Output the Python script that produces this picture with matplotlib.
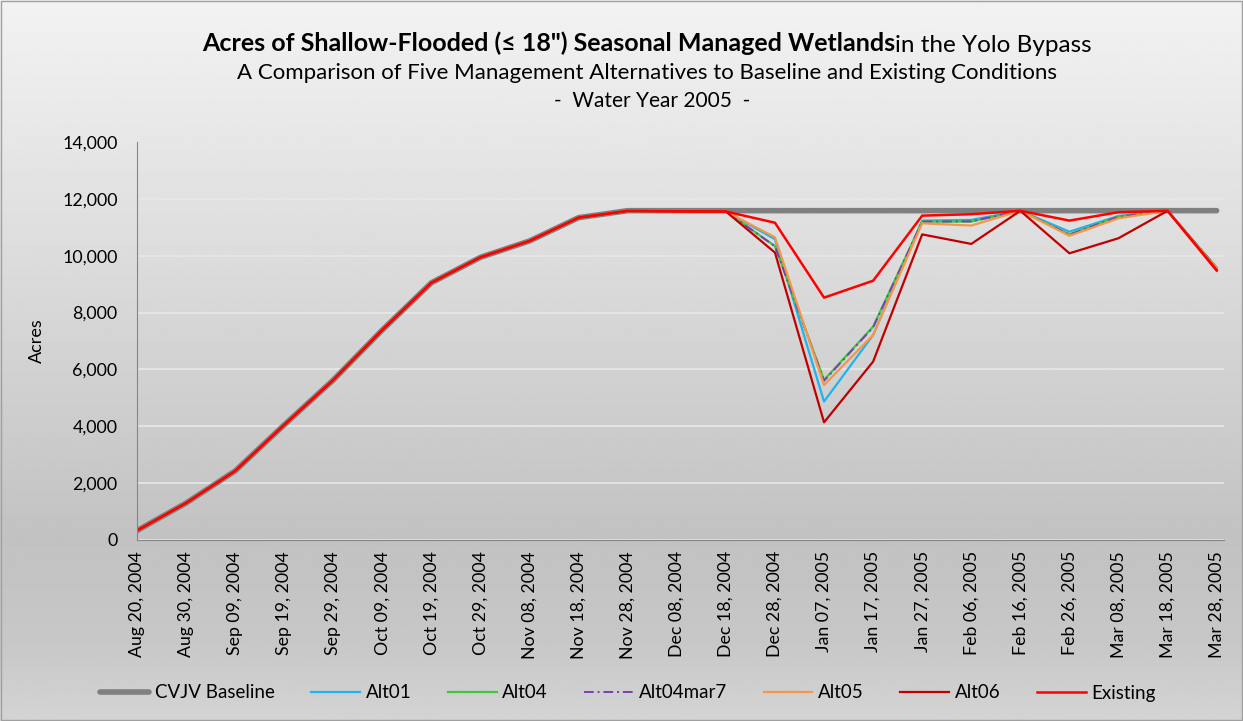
import numpy as np
import matplotlib
matplotlib.use("Agg")
from matplotlib import pyplot as plt
from matplotlib.ticker import FuncFormatter

plt.rcParams["font.family"] = ["Lato", "DejaVu Sans"]

dates = ["Aug 20, 2004", "Aug 30, 2004", "Sep 09, 2004", "Sep 19, 2004", "Sep 29, 2004",
         "Oct 09, 2004", "Oct 19, 2004", "Oct 29, 2004", "Nov 08, 2004", "Nov 18, 2004",
         "Nov 28, 2004", "Dec 08, 2004", "Dec 18, 2004", "Dec 28, 2004", "Jan 07, 2005",
         "Jan 17, 2005", "Jan 27, 2005", "Feb 06, 2005", "Feb 16, 2005", "Feb 26, 2005",
         "Mar 08, 2005", "Mar 18, 2005", "Mar 28, 2005"]

baseline = [330, 1300, 2430, 4050, 5630, 7390, 9050, 9945, 10520, 11340, 11585, 11585,
            11585, 11585, 11585, 11585, 11585, 11585, 11585, 11585, 11585, 11585, 11585]
alt01 = [330, 1300, 2430, 4050, 5630, 7390, 9050, 9945, 10520, 11340, 11575, 11560,
         11555, 10580, 4870, 7210, 11235, 11260, 11580, 10845, 11400, 11580, 9580]
alt04 = [330, 1300, 2430, 4050, 5630, 7390, 9050, 9945, 10520, 11340, 11575, 11560,
         11555, 10340, 5630, 7505, 11200, 11200, 11580, 10750, 11380, 11580, 9580]
alt04mar7 = [330, 1300, 2430, 4050, 5630, 7390, 9050, 9945, 10520, 11340, 11575, 11560,
             11555, 10330, 5600, 7480, 11200, 11210, 11580, 10740, 11370, 11580, 9580]
alt05 = [330, 1300, 2430, 4050, 5630, 7390, 9050, 9945, 10520, 11340, 11575, 11560,
         11555, 10650, 5450, 7210, 11140, 11060, 11580, 10700, 11315, 11580, 9560]
alt06 = [330, 1300, 2430, 4050, 5630, 7390, 9050, 9945, 10520, 11340, 11575, 11560,
         11555, 10110, 4140, 6275, 10750, 10415, 11580, 10085, 10615, 11580, 9500]
existing = [330, 1300, 2430, 4050, 5630, 7390, 9050, 9945, 10520, 11340, 11575, 11560,
            11555, 11160, 8525, 9120, 11410, 11460, 11580, 11235, 11530, 11580, 9475]

fig = plt.figure(figsize=(12.43, 7.21), dpi=100)

# background gradient
bg = fig.add_axes([0, 0, 1, 1], zorder=-10)
ys = np.array([0, 140, 540, 640, 721]) / 721
vals = np.array([0.95, 0.905, 0.76, 0.78, 0.83])
grad = np.interp(np.linspace(0, 1, 400), ys, vals)[:, None]
bg.imshow(np.repeat(grad, 2, axis=1), cmap="gray", vmin=0, vmax=1,
          aspect="auto", extent=[0, 1, 1, 0])
bg.set_xlim(0, 1)
bg.set_ylim(1, 0)
bg.axis("off")
bg.add_patch(plt.Rectangle((0.0005, 0.001), 0.999, 0.997, fill=False,
                           edgecolor="#a0a0a0", lw=1))

ax = fig.add_axes([137 / 1243, 1 - 540 / 721, (1224 - 137) / 1243, (540 - 142) / 721])
ax.set_facecolor("none")
x = np.arange(len(dates))

ax.plot(x, baseline, color="#808080", lw=4, label="CVJV Baseline", solid_capstyle="round")
ax.plot(x, alt01, color="#1fb4ef", lw=1.6, label="Alt01")
ax.plot(x, alt04, color="#3cc83c", lw=1.6, label="Alt04")
ax.plot(x, alt04mar7, color="#7a3fb0", lw=1.4, ls=(0, (5, 2, 1, 2)), label="Alt04mar7")
ax.plot(x, alt05, color="#f79646", lw=1.6, label="Alt05")
ax.plot(x, alt06, color="#c00000", lw=1.6, label="Alt06")
ax.plot(x, existing, color="#ff0000", lw=1.8, label="Existing")

ax.set_xlim(0, 22.15)
ax.set_ylim(0, 14000)
ax.set_yticks(np.arange(0, 14001, 2000))
ax.yaxis.set_major_formatter(FuncFormatter(lambda v, p: f"{int(v):,}"))
ax.set_xticks(x)
ax.set_xticklabels(dates, rotation=90, fontsize=12.8)
ax.tick_params(axis="y", labelsize=12.8, length=0, pad=14)
ax.tick_params(axis="x", length=0, pad=8)
ax.grid(axis="y", color="#e8e8e8", lw=1.2)
ax.set_axisbelow(True)
for s in ["top", "right"]:
    ax.spines[s].set_visible(False)
for s in ["left", "bottom"]:
    ax.spines[s].set_color("#868686")
ax.set_ylabel("Acres", fontsize=13, labelpad=12)

fig.text(895 / 1243, 1 - 43 / 721, "Acres of Shallow-Flooded (\u2264 18\") Seasonal Managed Wetlands",
         ha="right", va="center", fontsize=18, fontweight="bold")
fig.text(895 / 1243, 1 - 45 / 721, "in the Yolo Bypass", ha="left", va="center", fontsize=17.5)
fig.text(647 / 1243, 1 - 73 / 721,
         "A Comparison of Five Management Alternatives to Baseline and Existing Conditions",
         ha="center", va="center", fontsize=16)
fig.text(652 / 1243, 1 - 101 / 721, "-  Water Year 2005  -", ha="center", va="center", fontsize=15)

fig.legend(loc="center", bbox_to_anchor=(628 / 1243, 1 - 693 / 721), ncol=7, frameon=False,
           fontsize=13.5, handlelength=2.6, columnspacing=1.95, handletextpad=0.3)

fig.savefig("out.png", dpi=100)
